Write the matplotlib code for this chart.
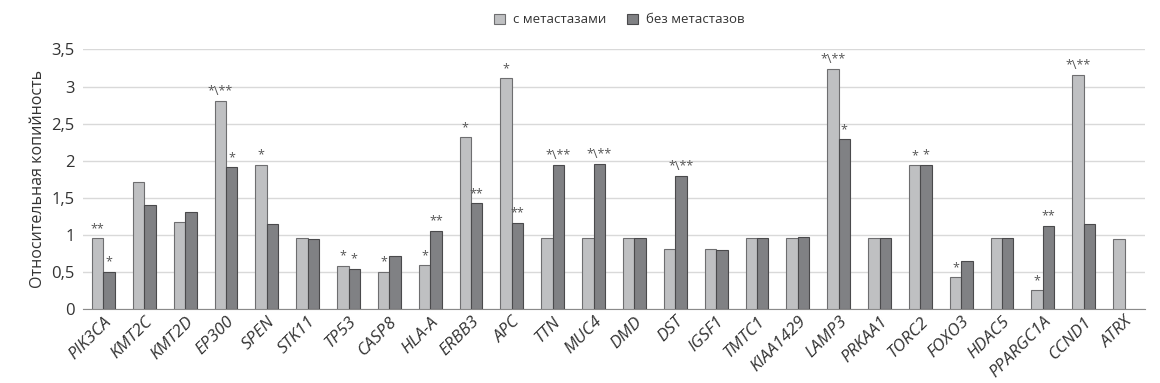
import numpy as np
import matplotlib
matplotlib.use("Agg")
import matplotlib.pyplot as plt
from matplotlib.ticker import FuncFormatter

plt.rcParams['font.family'] = ['Open Sans', 'DejaVu Sans']

genes = ['PIK3CA', 'KMT2C', 'KMT2D', 'EP300', 'SPEN', 'STK11', 'TP53', 'CASP8',
         'HLA-A', 'ERBB3', 'APC', 'TTN', 'MUC4', 'DMD', 'DST', 'IGSF1', 'TMTC1',
         'KIAA1429', 'LAMP3', 'PRKAA1', 'TORC2', 'FOXO3', 'HDAC5', 'PPARGC1A',
         'CCND1', 'ATRX']
with_met = [0.96, 1.71, 1.18, 2.81, 1.95, 0.96, 0.59, 0.51, 0.60, 2.32, 3.11,
            0.96, 0.96, 0.96, 0.82, 0.82, 0.96, 0.96, 3.24, 0.96, 1.94, 0.44,
            0.96, 0.26, 3.15, 0.95]
no_met = [0.51, 1.41, 1.31, 1.92, 1.15, 0.95, 0.55, 0.72, 1.06, 1.43, 1.17,
          1.95, 1.96, 0.96, 1.80, 0.80, 0.96, 0.97, 2.29, 0.96, 1.95, 0.65,
          0.96, 1.13, 1.15, np.nan]
# significance marks above bars
marks_with = ['**', '', '', '*\\**', '*', '', '*', '*', '*', '*', '*', '', '',
              '', '', '', '', '', '*\\**', '', '*', '*', '', '*', '*\\**', '']
marks_no = ['*', '', '', '*', '', '', '*', '', '**', '**', '**', '*\\**', '*\\**',
            '', '*\\**', '', '', '', '*', '', '*', '', '', '**', '', '']

light = '#bfc0c2'
dark = '#808184'

fig = plt.figure(figsize=(11.6, 3.83), dpi=100)
ax = fig.add_axes([83/1160, 0.192, (1145-83)/1160, 0.679])

x = np.arange(len(genes))
w = 0.28
ax.bar(x - w/2, with_met, w, color=light, edgecolor='#6e6e70', linewidth=0.8,
       label='с метастазами', zorder=3)
ax.bar(x + w/2, no_met, w, color=dark, edgecolor='#4a4a4c', linewidth=0.8,
       label='без метастазов', zorder=3)

for i in range(len(genes)):
    if marks_with[i]:
        ax.text(x[i] - w/2, with_met[i] + 0.04, marks_with[i], ha='center', va='bottom',
                fontsize=9, color='#555555')
    if marks_no[i]:
        ax.text(x[i] + w/2, no_met[i] + 0.04, marks_no[i], ha='center', va='bottom',
                fontsize=9, color='#555555')

ax.set_xlim(-0.5, len(genes) - 0.5)
ax.set_ylim(0, 3.5)
ax.set_yticks(np.arange(0, 3.51, 0.5))
ax.yaxis.set_major_formatter(FuncFormatter(lambda v, p: ('%g' % v).replace('.', ',')))
ax.grid(axis='y', color='#d9d9d9', linewidth=1, zorder=0)
for s in ['top', 'right', 'left']:
    ax.spines[s].set_visible(False)
ax.spines['bottom'].set_color('#8a8a8a')
ax.tick_params(axis='both', length=0, labelsize=12, colors='#333333')
ax.tick_params(axis='y', pad=6)
ax.tick_params(axis='x', pad=3)
ax.set_xticks(x)
ax.set_xticklabels(genes, rotation=45, ha='right', rotation_mode='anchor',
                   style='italic', fontsize=12.3)
ax.set_ylabel('Относительная копийность', fontsize=11.5, color='#333333')

fig.legend(loc='center', bbox_to_anchor=(0.534, 0.948), ncol=2, frameon=False,
           fontsize=9.5, handlelength=0.8, handleheight=0.8, columnspacing=1.6,
           handletextpad=0.6, labelcolor='#333333')

fig.savefig('out.png', dpi=100)
